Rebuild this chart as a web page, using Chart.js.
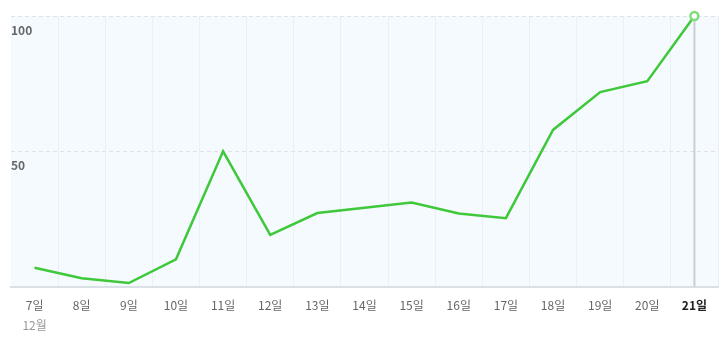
<!DOCTYPE html>
<html>
<head>
<meta charset="utf-8">
<script src="https://cdn.jsdelivr.net/npm/chart.js@4.4.1/dist/chart.umd.min.js"></script>
<style>
  html, body { margin: 0; padding: 0; background: #fff; }
  #wrap { width: 726px; height: 345px; position: relative; }
</style>
</head>
<body>
<div id="wrap"><canvas id="chart"></canvas></div>
<script>
// days of December shown on the x axis
var days = ['7일', '8일', '9일', '10일', '11일', '12일', '13일', '14일', '15일', '16일', '17일', '18일', '19일', '20일', '21일'];
var monthLabel = '12월';
var trend = [7, 3.1, 1.3, 10.1, 50, 19.1, 27.2, 29.1, 31.1, 27, 25.3, 57.9, 71.9, 75.9, 100];
var yTicks = [50, 100];

var lastIdx = days.length - 1;
var fontFamily = "'Noto Sans CJK KR', 'Noto Sans', sans-serif";

// light blue plot background
var plotBg = {
    id: 'plotBg',
    beforeDraw: function (chart) {
        var a = chart.chartArea, c = chart.ctx;
        c.save();
        c.fillStyle = '#f5faff';
        c.fillRect(a.left, a.top, a.right - a.left, a.bottom - a.top);
        c.restore();
    }
};

// vertical marker on the selected (last) day
var dayMarker = {
    id: 'dayMarker',
    beforeDatasetsDraw: function (chart) {
        var a = chart.chartArea, c = chart.ctx;
        var x = chart.scales.x.getPixelForValue(lastIdx);
        c.save();
        c.strokeStyle = '#c9ced3';
        c.lineWidth = 2;
        c.beginPath();
        c.moveTo(x, a.top);
        c.lineTo(x, a.bottom);
        c.stroke();
        c.restore();
    }
};

// month caption under the first day
var monthCaption = {
    id: 'monthCaption',
    afterDraw: function (chart) {
        var c = chart.ctx;
        var x = chart.scales.x.getPixelForValue(0);
        c.save();
        c.font = '12px ' + fontFamily;
        c.fillStyle = '#999';
        c.textAlign = 'center';
        c.textBaseline = 'middle';
        c.fillText(monthLabel, x, chart.chartArea.bottom + 39);
        c.restore();
    }
};

var ctx = document.getElementById('chart').getContext('2d');
var chart = new Chart(ctx, {
    type: 'line',
    data: {
        labels: days,
        datasets: [{
            data: trend,
            borderColor: '#3ec83a',
            borderWidth: 2.5,
            tension: 0,
            fill: false,
            clip: false,
            pointRadius: function (c) { return c.dataIndex === lastIdx ? 4 : 0; },
            pointBackgroundColor: '#ffffff',
            pointBorderColor: '#7fdd7b',
            pointBorderWidth: 2.5
        }]
    },
    options: {
        responsive: true,
        maintainAspectRatio: false,
        animation: false,
        layout: { padding: { left: 11, right: 8, top: 16, bottom: 20 } },
        plugins: { legend: { display: false }, tooltip: { enabled: false } },
        scales: {
            x: {
                type: 'category',
                offset: true,
                grid: {
                    offset: true,
                    drawTicks: false,
                    color: function (c) {
                        return (c.index === 0 || c.index >= days.length) ? 'rgba(0,0,0,0)' : '#e8f1f8';
                    }
                },
                border: { display: true, color: '#d9e0e6', width: 2 },
                ticks: {
                    padding: 12,
                    maxRotation: 0,
                    autoSkip: false,
                    font: function (c) {
                        return {
                            family: fontFamily,
                            size: 12,
                            weight: c.index === lastIdx ? 'bold' : 'normal'
                        };
                    },
                    color: function (c) { return c.index === lastIdx ? '#222' : '#666'; }
                }
            },
            y: {
                min: 0,
                max: 100,
                afterBuildTicks: function (axis) {
                    axis.ticks = [0].concat(yTicks).map(function (v) { return { value: v }; });
                },
                grid: {
                    drawTicks: false,
                    color: function (c) { return c.tick && c.tick.value === 0 ? 'rgba(0,0,0,0)' : '#dfe3e7'; },
                    lineWidth: 1
                },
                border: { display: false, dash: [4, 3] },
                ticks: {
                    mirror: true,
                    padding: 0,
                    labelOffset: 14,
                    z: 1,
                    font: { family: fontFamily, size: 12, weight: 'bold' },
                    color: '#666',
                    callback: function (v) { return v === 0 ? '' : v; }
                }
            }
        }
    },
    plugins: [plotBg, dayMarker, monthCaption]
});
</script>
</body>
</html>
